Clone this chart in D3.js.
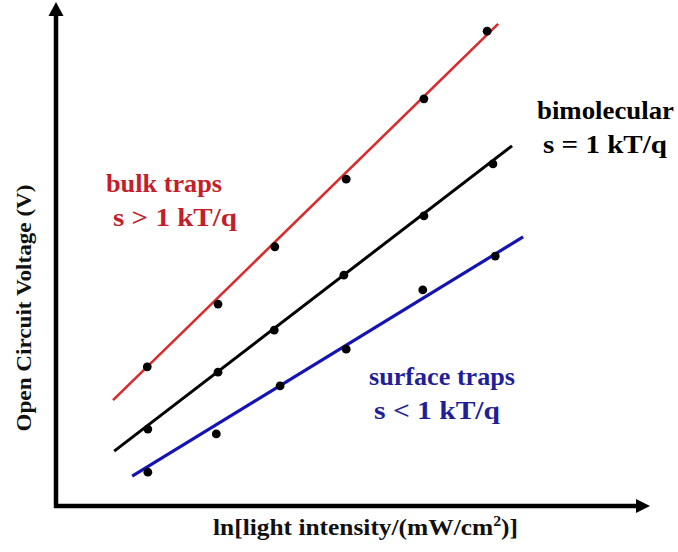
<!DOCTYPE html>
<html><head><meta charset="utf-8">
<script src="https://cdn.jsdelivr.net/npm/d3@7"></script>
<style>html,body{margin:0;padding:0;background:#fff;}svg{display:block;}
svg text{font-family:"Liberation Serif","Times New Roman",Times,serif;font-weight:bold;}</style>
</head><body>
<svg id="chart" width="678" height="552"></svg>
<script>
// ---- data (arbitrary units: x = ln intensity, y = Voc) ----
const seriesNames = ["bulk traps", "bimolecular", "surface traps"];
const redX   = [14.7, 26.9, 36.7, 49.0, 62.4, 73.3];
const redY   = [28.2, 41.0, 52.7, 66.5, 82.9, 96.7];
const blackX = [14.8, 26.9, 36.6, 48.6, 62.4, 74.3];
const blackY = [15.5, 27.1, 35.7, 46.9, 59.0, 69.6];
const blueX  = [14.8, 26.6, 37.6, 49.0, 62.2, 74.7];
const blueY  = [6.7, 14.5, 24.3, 31.8, 43.9, 50.8];
// fitted line end points
const redFitX   = [8.8, 75.2],  redFitY   = [21.4, 98.2];
const blackFitX = [9.0, 77.6],  blackFitY = [11.0, 73.3];
const blueFitX  = [12.1, 79.5], blueFitY  = [5.9, 54.7];
const annotations = [
  ["bulk traps", "s > 1 kT/q"],
  ["bimolecular", "s = 1 kT/q"],
  ["surface traps", "s < 1 kT/q"]
];
const xLabel = "ln[light intensity/(mW/cm";
const yLabel = "Open Circuit Voltage (V)";

// ---- drawing ----
const svg = d3.select("#chart");
const x = d3.scaleLinear().domain([0, 100]).range([62, 642]);
const y = d3.scaleLinear().domain([0, 100]).range([505, 15]);

// axes with arrows
const axX = x.range()[0] - 6, axY = y.range()[0] + 1;
svg.append("line").attr("x1", axX).attr("y1", axY + 2).attr("x2", axX).attr("y2", 14)
  .attr("stroke", "#000").attr("stroke-width", 4.5);
svg.append("path").attr("d", `M${axX},2 L${axX - 7.5},16 L${axX + 7.5},16 Z`).attr("fill", "#000");
svg.append("line").attr("x1", axX - 2).attr("y1", axY).attr("x2", 638).attr("y2", axY)
  .attr("stroke", "#000").attr("stroke-width", 4.5);
svg.append("path").attr("d", `M650,${axY} L636,${axY - 7} L636,${axY + 7} Z`).attr("fill", "#000");

const series = [
  {name: seriesNames[0], xs: redX, ys: redY, fx: redFitX, fy: redFitY, line: "#d92b2b", text: "#c41e2a", w: 2.6},
  {name: seriesNames[1], xs: blackX, ys: blackY, fx: blackFitX, fy: blackFitY, line: "#000", text: "#000", w: 3},
  {name: seriesNames[2], xs: blueX, ys: blueY, fx: blueFitX, fy: blueFitY, line: "#1414b4", text: "#1f1f9a", w: 3.2}
];
const lineGen = d3.line().x(d => x(d[0])).y(d => y(d[1]));
series.forEach(s => {
  svg.append("path").datum(d3.zip(s.fx, s.fy)).attr("d", lineGen)
    .attr("fill", "none").attr("stroke", s.line).attr("stroke-width", s.w);
});
series.forEach(s => {
  svg.append("g").selectAll("circle").data(d3.zip(s.xs, s.ys)).join("circle")
    .attr("cx", d => x(d[0])).attr("cy", d => y(d[1])).attr("r", 4.4).attr("fill", "#000");
});

// annotations
const annPos = [
  [[106, 192, 116], [113, 226, 124]],
  [[537, 119, 137], [543, 153, 124]],
  [[369, 385, 146], [374, 419, 126]]
];
annotations.forEach((lines, i) => {
  lines.forEach((t, j) => {
    const p = annPos[i][j];
    svg.append("text").attr("x", p[0]).attr("y", p[1]).text(t)
      .attr("font-size", 25.5)
      .attr("fill", series[i].text)
      .attr("textLength", p[2]).attr("lengthAdjust", "spacingAndGlyphs");
  });
});

// axis labels
const xl = svg.append("text").attr("x", 213).attr("y", 535)
  .attr("font-size", 22.5).attr("fill", "#111")
  .attr("textLength", 305).attr("lengthAdjust", "spacingAndGlyphs");
xl.append("tspan").text(xLabel);
xl.append("tspan").text("2").attr("font-size", 14).attr("dy", -9);
xl.append("tspan").text(")]").attr("dy", 9);

svg.append("text").attr("transform", "translate(31,308) rotate(-90)")
  .attr("text-anchor", "middle").text(yLabel)
  .attr("font-size", 22).attr("fill", "#111")
  .attr("textLength", 247).attr("lengthAdjust", "spacingAndGlyphs");
</script>
</body></html>
